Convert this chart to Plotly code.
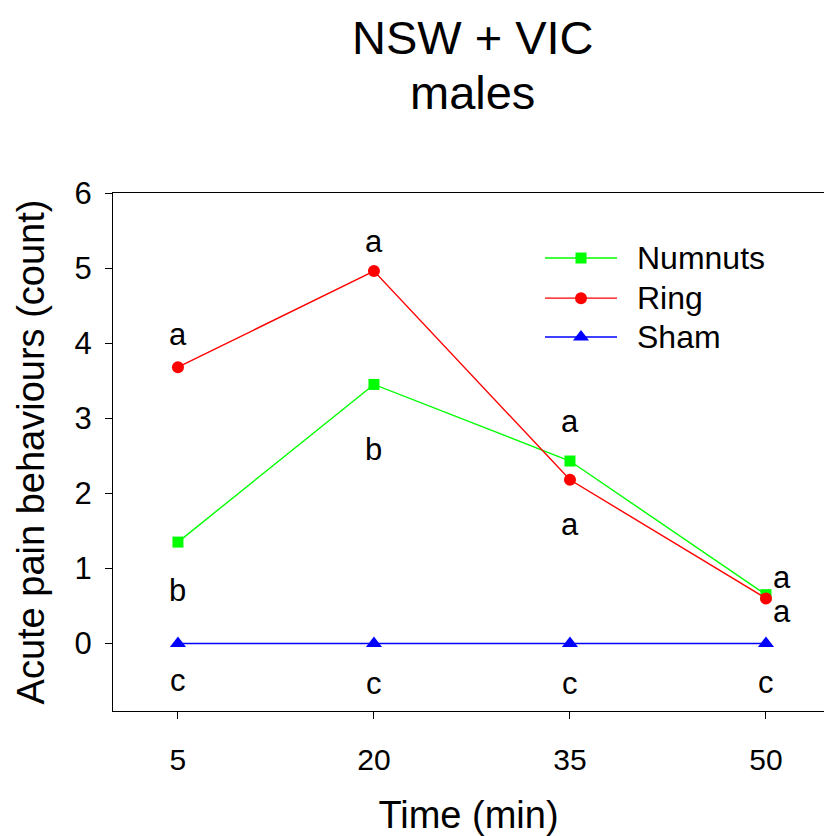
import plotly.graph_objects as go

# ---- data ----
times = [5, 20, 35, 50]
series_names = ["Numnuts", "Ring", "Sham"]
numnuts = [1.35, 3.45, 2.43, 0.65]
ring = [3.68, 4.96, 2.18, 0.60]
sham = [0.0, 0.0, 0.0, 0.0]

# significance letters: (x, y, text)
letter_x = [5, 5, 5, 20, 20, 20, 35, 35, 35, 51.2, 51.25, 50]
letter_y = [4.11, 0.71, -0.49, 5.35, 2.58, -0.53, 2.95, 1.58, -0.53, 0.88, 0.43, -0.52]
letter_t = ["a", "b", "c", "a", "b", "c", "a", "a", "c", "a", "a", "c"]

x_ticks = [5, 20, 35, 50]
y_ticks = [0, 1, 2, 3, 4, 5, 6]

title_lines = ["NSW + VIC", "males"]

# ---- styles ----
FONT = "Liberation Sans, Arial, sans-serif"
colors = ["#00FF00", "#FF0000", "#0000FF"]
symbols = ["square", "circle", "triangle-up"]
msizes = [11, 12, 14]

fig = go.Figure()
for name, vals, c, s, ms in zip(series_names, [numnuts, ring, sham], colors, symbols, msizes):
    fig.add_trace(go.Scatter(
        x=times, y=vals, mode="lines+markers", name=name,
        line=dict(color=c, width=1.4),
        marker=dict(symbol=s, size=ms, color=c, line=dict(width=0)),
        showlegend=False,
    ))

# custom legend on an overlay axis (0..1 = sample line length)
leg_rows = [0.8745, 0.797, 0.722]
for name, c, s, ms, ry in zip(series_names, colors, symbols, msizes, leg_rows):
    fig.add_trace(go.Scatter(
        x=[0.0, 0.5, 1.0], y=[ry, ry, ry], mode="lines", xaxis="x2", yaxis="y2",
        line=dict(color=c, width=1.4), showlegend=False, hoverinfo="skip"))
    fig.add_trace(go.Scatter(
        x=[0.5], y=[ry], mode="markers", xaxis="x2", yaxis="y2",
        marker=dict(symbol=s, size=ms, color=c), showlegend=False, hoverinfo="skip"))
    fig.add_annotation(x=1.25, y=ry, xref="x2", yref="y2", text=name, showarrow=False,
                       xanchor="left", yanchor="middle", font=dict(size=32, color="black", family=FONT))

for lx, ly, lt in zip(letter_x, letter_y, letter_t):
    fig.add_annotation(x=lx, y=ly, text=lt, showarrow=False, xanchor="center", yanchor="middle",
                       font=dict(size=31, color="black", family=FONT))

for t, ty in zip(title_lines, [1.300, 1.194]):
    fig.add_annotation(x=0.506, y=ty, xref="paper", yref="paper", text=t, showarrow=False,
                       xanchor="center", yanchor="middle", font=dict(size=47, color="black", family=FONT))

fig.update_layout(
    width=824, height=836,
    margin=dict(l=113, r=0, t=193, b=125),
    paper_bgcolor="white", plot_bgcolor="white",
    font=dict(family=FONT, color="black"),
    xaxis=dict(range=[0.03, 54.44], tickvals=x_ticks, ticks="outside", ticklen=7, tickwidth=1.3,
               tickcolor="black", showline=True, linecolor="black", linewidth=1.3, mirror=True,
               showgrid=False, zeroline=False, tickfont=dict(size=30), ticklabelstandoff=15,
               title=dict(text="Time (min)", font=dict(size=38), standoff=26)),
    yaxis=dict(range=[-0.9, 6], tickvals=y_ticks, ticks="outside", ticklen=7, tickwidth=1.3,
               tickcolor="black", showline=True, linecolor="black", linewidth=1.3, mirror=False,
               showgrid=False, zeroline=False, tickfont=dict(size=31), ticklabelstandoff=7,
               title=dict(text="Acute pain behaviours (count)", font=dict(size=38), standoff=18)),
    xaxis2=dict(overlaying="x", range=[-6.0, 3.875], visible=False),
    yaxis2=dict(overlaying="y", range=[0, 1], visible=False),
)

fig.write_html("out.html")
